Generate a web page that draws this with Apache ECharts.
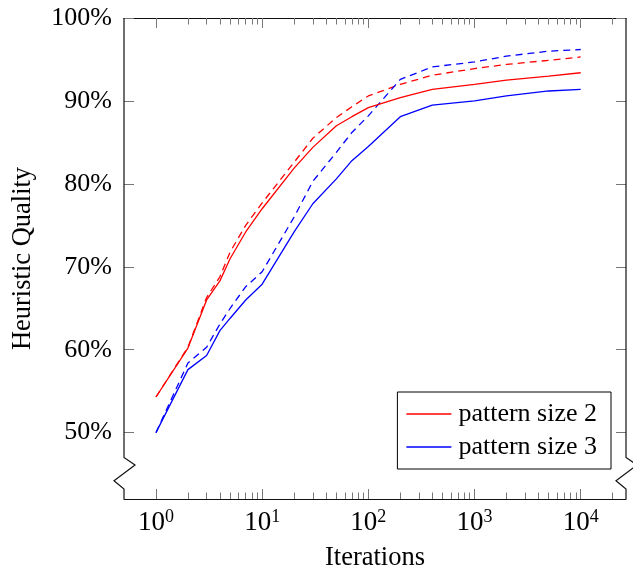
<!DOCTYPE html>
<html>
<head>
<meta charset="utf-8">
<script src="https://cdn.jsdelivr.net/npm/echarts@6/dist/echarts.min.js"></script>
<style>
  html, body { margin: 0; padding: 0; background: #fff; }
  #chart { width: 633px; height: 577px; }
</style>
</head>
<body>
<div id="chart"></div>
<script>
// iterations sampled on the log axis
const iterations = [1, 2, 3, 4, 5, 7, 10, 20, 30, 50, 70, 100, 200, 400, 1000, 2000, 5000, 10000]

// heuristic quality in %
const size2Solid = [54.3, 60.2, 66.0, 68.3, 71.0, 74.2, 77.0, 81.9, 84.4, 87.0, 88.1, 89.2, 90.4, 91.4, 92.0, 92.5, 93.0, 93.4]
const size2Dashed = [54.3, 60.3, 66.3, 68.8, 71.8, 75.0, 77.7, 82.6, 85.5, 88.0, 89.3, 90.6, 92.0, 93.1, 93.9, 94.4, 94.9, 95.3]
const size3Solid = [50.0, 57.6, 59.3, 62.3, 63.8, 66.0, 67.9, 74.2, 77.6, 80.6, 82.8, 84.5, 88.1, 89.5, 90.0, 90.6, 91.2, 91.4]
const size3Dashed = [50.0, 58.4, 60.3, 63.1, 65.0, 67.6, 69.4, 76.0, 80.3, 83.8, 86.2, 88.2, 92.6, 94.1, 94.7, 95.4, 96.0, 96.2]

const yTicks = [50, 60, 70, 80, 90, 100]
const xMajorTicks = [1, 10, 100, 1000, 10000]
const xMinorTicks = [2, 3, 4, 5, 6, 7, 8, 9,
  20, 30, 40, 50, 60, 70, 80, 90,
  200, 300, 400, 500, 600, 700, 800, 900,
  2000, 3000, 4000, 5000, 6000, 7000, 8000, 9000,
  20000]

const FONT = 'Liberation Serif'
const TICK = { color: '#777', width: 1 }
const AXIS = { color: '#111', width: 1.2 }
const Y_MIN = 42
const Y_MAX = 100

const pairs = vals => iterations.map((x, i) => [x, vals[i]])

const logAxis = (position, ticks, len, extra) => Object.assign({
  type: 'log',
  logBase: 10,
  min: 0.5,
  max: 26700,
  position: position,
  axisLine: { show: false, onZero: false },
  axisTick: { show: true, inside: true, length: len, customValues: ticks, lineStyle: TICK },
  axisLabel: { show: false },
  splitLine: { show: false }
}, extra)

const valAxis = (position, extra) => Object.assign({
  type: 'value',
  min: Y_MIN,
  max: Y_MAX,
  position: position,
  axisLine: { show: false },
  axisTick: { show: true, inside: true, length: 10, customValues: yTicks, lineStyle: TICK },
  axisLabel: { show: false },
  splitLine: { show: false }
}, extra)

const line = (name, data, color, type) => ({
  name: name,
  type: 'line',
  data: pairs(data),
  symbol: 'none',
  color: color,
  lineStyle: { color: color, width: 1.3, type: type },
  emphasis: { disabled: true },
  z: type === 'solid' ? 3 : 2
})

const chart = echarts.init(document.getElementById('chart'), null, { renderer: 'canvas' })

chart.setOption({
  animation: false,
  backgroundColor: '#fff',
  grid: { left: 124, right: 7, top: 18, bottom: 74 },
  legend: {
    orient: 'vertical',
    right: 22,
    bottom: 108,
    data: [
      { name: 'pattern size 2', icon: 'rect' },
      { name: 'pattern size 3', icon: 'rect' }
    ],
    itemWidth: 45,
    itemHeight: 1.4,
    itemGap: 7,
    padding: [9, 14, 9, 9],
    borderColor: '#000',
    borderWidth: 1,
    borderRadius: 0,
    backgroundColor: '#fff',
    textStyle: { fontFamily: FONT, fontSize: 26, color: '#000', padding: [0, 0, 0, 2] }
  },
  xAxis: [
    logAxis('bottom', xMajorTicks, 10, {
      axisLine: { show: true, onZero: false, lineStyle: AXIS },
      axisLabel: {
        show: true,
        customValues: xMajorTicks,
        margin: 9,
        formatter: v => '{b|10}{s|' + Math.round(Math.log10(v)) + '}',
        rich: {
          b: { fontFamily: FONT, fontSize: 27, lineHeight: 30, color: '#000' },
          s: { fontFamily: FONT, fontSize: 18, lineHeight: 16, verticalAlign: 'top', color: '#000' }
        }
      },
      name: 'Iterations',
      nameLocation: 'middle',
      nameGap: 46,
      nameTextStyle: { fontFamily: FONT, fontSize: 26.5, color: '#000' }
    }),
    logAxis('bottom', xMinorTicks, 6.5),
    logAxis('top', xMajorTicks, 10, { axisLine: { show: true, onZero: false, lineStyle: AXIS } }),
    logAxis('top', xMinorTicks, 6.5)
  ],
  yAxis: [
    valAxis('left', {
      axisLabel: {
        show: true,
        customValues: yTicks,
        formatter: '{value}%',
        margin: 12,
        fontFamily: FONT,
        fontSize: 26,
        color: '#000'
      },
      name: 'Heuristic Quality',
      nameLocation: 'middle',
      nameGap: 87,
      nameTextStyle: { fontFamily: FONT, fontSize: 26.5, color: '#000' }
    }),
    valAxis('right')
  ],
  series: [
    line('pattern size 2', size2Solid, '#ff0000', 'solid'),
    line('pattern size 3', size3Solid, '#0000ff', 'solid'),
    line('pattern size 2 dashed', size2Dashed, '#ff0000', [7, 5]),
    line('pattern size 3 dashed', size3Dashed, '#0000ff', [7, 5])
  ]
})

// side borders with the axis-break zigzag near the bottom
const breakLevels = [47.0, 46.1, 44.2, 43.2]
const breakShift = [0, 11, -10, 0]
const yPx = v => chart.convertToPixel({ yAxisIndex: 0 }, v)
const leftPx = 124
const rightPx = 633 - 7
const border = x => {
  const pts = [[x, yPx(Y_MAX)]]
  breakLevels.forEach((lv, i) => pts.push([x + breakShift[i], yPx(lv)]))
  pts.push([x, yPx(Y_MIN)])
  return {
    type: 'polyline',
    shape: { points: pts },
    style: { stroke: AXIS.color, lineWidth: AXIS.width, fill: null },
    z: 10
  }
}
chart.setOption({ graphic: [border(leftPx), border(rightPx)] })
</script>
</body>
</html>
